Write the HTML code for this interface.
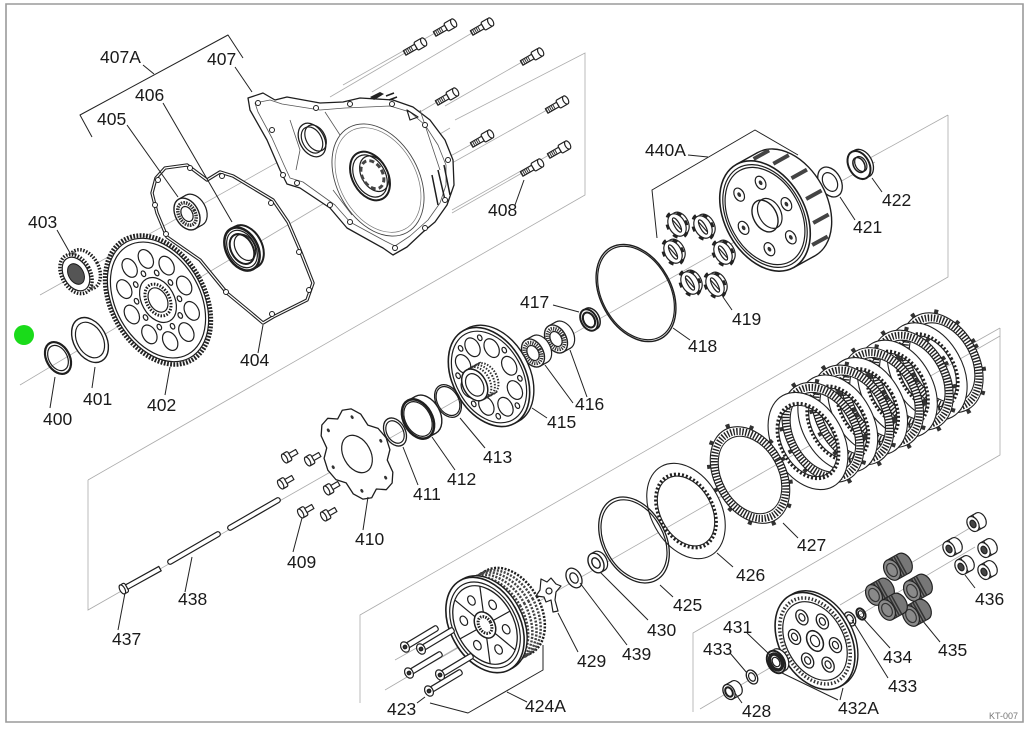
<!DOCTYPE html>
<html><head><meta charset="utf-8">
<style>
html,body{margin:0;padding:0;background:#fff;}
svg{display:block}
svg *{vector-effect:non-scaling-stroke}
text{font-family:"Liberation Sans",Arial,sans-serif;font-size:17.5px;fill:#1a1a1a;stroke:none}
</style></head><body>
<svg width="1030" height="740" viewBox="0 0 1030 740" xmlns="http://www.w3.org/2000/svg">
<defs>
<g id="sp">
 <path fill="#fff" fill-rule="evenodd" stroke="#222" stroke-width="1.1" d="M52 0A52 52 0 1 0-52 0A52 52 0 1 0 52 0ZM38 0A38 38 0 1 0-38 0A38 38 0 1 0 38 0Z"/>
 <circle r="40" fill="none" stroke="#222" stroke-width="3.5" stroke-dasharray="2 2"/>
</g>
<g id="fp">
 <circle r="57" fill="none" stroke="#333" stroke-width="4.5" stroke-dasharray="4 20"/>
 <path fill="#fff" fill-rule="evenodd" stroke="#222" stroke-width="1.1" d="M55 0A55 55 0 1 0-55 0A55 55 0 1 0 55 0ZM44 0A44 44 0 1 0-44 0A44 44 0 1 0 44 0Z"/>
 <circle r="49.5" fill="none" stroke="#222" stroke-width="7" stroke-dasharray="1.4 1.6"/>
</g>
<g id="bolt">
 <rect x="-12" y="-2.6" width="13" height="5.2" fill="#fff" stroke="#222"/>
 <line x1="-12" y1="0" x2="-3" y2="0" stroke="#333" stroke-width="4.5" stroke-dasharray="1 1"/>
 <rect x="1" y="-4.5" width="9" height="9" rx="1.5" fill="#fff" stroke="#222"/>
 <ellipse cx="10" cy="0" rx="2.5" ry="4.5" fill="#fff" stroke="#222"/>
</g>
<g id="scr">
 <rect x="0" y="-2.3" width="9" height="4.6" fill="#fff" stroke="#222"/>
 <rect x="-5" y="-5" width="6" height="10" rx="1.5" fill="#fff" stroke="#222"/>
 <ellipse cx="-5" cy="0" rx="2.3" ry="5" fill="#fff" stroke="#222"/>
</g>
<g id="lb">
 <rect x="0" y="-2.8" width="38" height="5.6" rx="2" fill="#fff" stroke="#222"/>
 <ellipse cx="0" cy="0" rx="4" ry="5.5" fill="#fff" stroke="#222"/>
 <circle r="1.8" fill="#333"/>
</g>
<g id="brg">
 <circle cx="12" r="15" fill="#fff" stroke="#222"/>
 <rect x="0" y="-15" width="12" height="30" fill="#fff" stroke="none"/>
 <path d="M0 -15H12M0 15H12" stroke="#222"/>
 <circle r="15" fill="#fff" stroke="#222" stroke-width="1.4"/>
 <circle r="11" fill="none" stroke="#333" stroke-width="4" stroke-dasharray="1.2 1"/>
 <circle r="8" fill="none" stroke="#222"/>
</g>
<g id="dmp">
 <circle cx="5" r="12" fill="#fff" stroke="#222"/>
 <rect x="0" y="-12" width="5" height="24" fill="#fff" stroke="none"/>
 <circle r="13.5" fill="none" stroke="#222" stroke-width="3" stroke-dasharray="5 7"/>
 <circle r="12" fill="#fff" stroke="#222"/>
 <ellipse rx="4" ry="8" fill="none" stroke="#222"/>
 <path d="M-2 -6L2 6" stroke="#222"/>
</g>
<g id="spr">
 <circle cx="20" r="11" fill="#777" stroke="#222"/>
 <rect x="0" y="-11" width="20" height="22" fill="#777" stroke="none"/>
 <path d="M0 -11H20M0 11H20" stroke="#222"/>
 <path d="M4 -11V11M8 -11V11M12 -11V11M16 -11V11" stroke="#333" stroke-width="1.5"/>
 <circle r="11" fill="#8a8a8a" stroke="#222"/>
 <circle r="7" fill="none" stroke="#333"/>
</g>
<g id="cap">
 <circle cx="12" r="8" fill="#fff" stroke="#222"/>
 <rect x="0" y="-8" width="12" height="16" fill="#fff" stroke="none"/>
 <path d="M0 -8H12M0 8H12M6 -8V8" stroke="#222"/>
 <circle r="8" fill="#fff" stroke="#222"/>
 <circle r="4" fill="#444" stroke="#222"/>
</g>
</defs>

<rect width="1030" height="740" fill="#fff"/>
<rect x="6" y="4" width="1017" height="718" fill="none" stroke="#9a9a9a" stroke-width="1.6"/>

<!-- guide lines -->
<g stroke="#ababab" stroke-width=".8" fill="none">
<path d="M88 480L585 195V53L455 120"/>
<path d="M88 480V610L875 162"/>
<path d="M948 115V277L360 615V703"/>
<path d="M948 115L870 158"/>
<path d="M1000 328V455L693 633V712"/>
<path d="M1000 328L968 346"/>
<path d="M20 385L450 128"/>
<path d="M40 295L330 133"/>
<path d="M430 664L1000 336"/>
<path d="M700 709L975 547"/>
<path d="M840 605L975 525"/>
<path d="M405 53L330 97M435 33L343 85M472 33L372 92M437 102L420 112M472 144L447 158M522 62L445 106M547 110L452 163M549 155L452 210M522 173L452 213"/>
<path d="M385 690L470 640M395 660L470 618"/>
</g>

<g fill="none" stroke="#1e1e1e" stroke-width="1.2" stroke-linejoin="round">

<!-- 408 bolts -->
<use href="#bolt" transform="translate(445 28) rotate(-30)"/>
<use href="#bolt" transform="translate(482 27) rotate(-30)"/>
<use href="#bolt" transform="translate(415 47) rotate(-30)"/>
<use href="#bolt" transform="translate(532 57) rotate(-30)"/>
<use href="#bolt" transform="translate(447 97) rotate(-30)"/>
<use href="#bolt" transform="translate(557 105) rotate(-30)"/>
<use href="#bolt" transform="translate(482 139) rotate(-30)"/>
<use href="#bolt" transform="translate(559 150) rotate(-30)"/>
<use href="#bolt" transform="translate(532 168) rotate(-30)"/>

<!-- 407 housing -->
<path fill="#fff" stroke-width="1.3" d="M248 98L263 93L275 100L287 97L320 103L343 102L360 98L393 100L413 107L430 120L445 140L453 160L454 185L447 205L435 222L423 232L407 247L393 255L383 248L347 228L330 208L300 188L287 184L280 170L267 140L250 110Z"/>
<path stroke="#555" stroke-width=".8" d="M255 103L270 100L282 104L320 110L345 108L390 106L410 112L425 125L438 145L446 165L446 185L440 203L428 220L410 236L395 246L385 241L350 222L335 205L303 182L290 178L284 165L272 138L258 112Z"/>
<path stroke="#555" stroke-width=".8" d="M290 120L300 150L296 170M325 112L340 135M420 110L430 140L440 170M333 190L352 215"/>
<g transform="translate(378 180) rotate(-29) scale(.68 1)"><circle r="60" stroke="#444" stroke-width=".9"/><circle r="56" stroke="#777" stroke-width=".7"/></g>
<g transform="translate(312 140) rotate(-29) scale(.68 1)"><circle r="18" fill="#fff" stroke-width="1.3"/><circle r="14"/><circle cx="6" r="14"/></g>
<g transform="translate(370 176) rotate(-29) scale(.68 1)"><circle r="26" fill="#fff" stroke-width="2"/><circle r="22.5"/><circle cx="7" r="19"/><circle cx="4" r="15" stroke="#444" stroke-width="3" stroke-dasharray="5 3"/></g>
<path stroke-width="1.5" d="M432 175L438 205M438 170L445 200M444 165L450 195"/>
<path fill="#222" stroke="none" d="M370 97L380 92L384 94L374 100Z"/>
<path stroke-width="1.5" d="M386 96l8-3M389 100l8-3"/>
<path d="M407 110L418 117L410 120Z" stroke-width="1.2"/>
<g fill="#fff" stroke-width="1">
<circle cx="258" cy="103" r="2.5"/><circle cx="272" cy="130" r="2.5"/><circle cx="283" cy="175" r="2.5"/><circle cx="297" cy="183" r="2.5"/><circle cx="316" cy="108" r="2.5"/><circle cx="350" cy="104" r="2.5"/><circle cx="392" cy="104" r="2.5"/><circle cx="425" cy="125" r="2.5"/><circle cx="448" cy="160" r="2.5"/><circle cx="445" cy="200" r="2.5"/><circle cx="425" cy="228" r="2.5"/><circle cx="395" cy="248" r="2.5"/><circle cx="350" cy="222" r="2.5"/><circle cx="330" cy="205" r="2.5"/>
</g>

<!-- 404 gasket -->
<path stroke="#222" stroke-width="3.4" d="M152 193L156 178L165 168L187 165L207 180L220 172L233 176L273 200L288 222L300 250L313 283L307 300L273 317L263 323L250 312L227 293L200 260L167 237L157 213Z"/>
<path stroke="#fff" stroke-width="1.2" d="M152 193L156 178L165 168L187 165L207 180L220 172L233 176L273 200L288 222L300 250L313 283L307 300L273 317L263 323L250 312L227 293L200 260L167 237L157 213Z"/>
<g fill="#fff" stroke-width="1">
<circle cx="158" cy="180" r="2.5"/><circle cx="190" cy="168" r="2.5"/><circle cx="222" cy="176" r="2.5"/><circle cx="271" cy="203" r="2.5"/><circle cx="299" cy="252" r="2.5"/><circle cx="309" cy="290" r="2.5"/><circle cx="272" cy="314" r="2.5"/><circle cx="226" cy="292" r="2.5"/><circle cx="166" cy="234" r="2.5"/><circle cx="155" cy="205" r="2.5"/>
</g>

<!-- 406 seal -->
<g transform="translate(242 249) rotate(-29) scale(.68 1)">
<circle cx="7" r="23" fill="#fff" stroke-width="2"/>
<rect x="0" y="-23" width="7" height="46" fill="#fff" stroke="none"/>
<path d="M0 -23H7M0 23H7" stroke-width="2"/>
<circle r="23" fill="#fff" stroke-width="2.5"/>
<circle r="20"/>
<circle r="16" stroke-width="2"/>
<circle cx="5" r="14"/>
</g>

<!-- 405 bearing -->
<g transform="translate(187 214) rotate(-29) scale(.68 1)">
<circle cx="12" r="17" fill="#fff"/>
<rect x="0" y="-17" width="12" height="34" fill="#fff" stroke="none"/>
<path d="M0 -17H12M0 17H12"/>
<circle r="17" fill="#fff" stroke-width="1.4"/>
<circle r="12" stroke-width="3.5" stroke="#333" stroke-dasharray="1.5 1"/>
<circle r="8"/>
</g>

<!-- 403 gear -->
<g transform="translate(76 274) rotate(-29) scale(.68 1)">
<circle cx="14" r="21" fill="#fff" stroke-width="3.5" stroke-dasharray="1.5 1.5"/>
<rect x="0" y="-21" width="14" height="42" fill="#777" stroke="none"/>
<circle r="21" fill="#fff" stroke-width="3.5" stroke-dasharray="1.5 1.5"/>
<circle r="18"/>
<circle r="11" fill="#555" stroke-width="1"/>
</g>

<!-- 402 gear -->
<g transform="translate(158 300) rotate(-29) scale(.68 1)">
<circle r="69" stroke="#222" stroke-width="4.5" stroke-dasharray="1.8 1.4"/>
<circle r="66" fill="#fff"/>
<circle r="62"/>
<g fill="#fff">
<circle cx="44" cy="0" r="10"/><circle cx="35.6" cy="25.9" r="10"/><circle cx="13.6" cy="41.8" r="10"/><circle cx="-13.6" cy="41.8" r="10"/><circle cx="-35.6" cy="25.9" r="10"/><circle cx="-44" cy="0" r="10"/><circle cx="-35.6" cy="-25.9" r="10"/><circle cx="-13.6" cy="-41.8" r="10"/><circle cx="13.6" cy="-41.8" r="10"/><circle cx="35.6" cy="-25.9" r="10"/>
<circle cx="28.5" cy="9.3" r="3"/><circle cx="17.6" cy="24.3" r="3"/><circle cx="0" cy="30" r="3"/><circle cx="-17.6" cy="24.3" r="3"/><circle cx="-28.5" cy="9.3" r="3"/><circle cx="-28.5" cy="-9.3" r="3"/><circle cx="-17.6" cy="-24.3" r="3"/><circle cx="0" cy="-30" r="3"/><circle cx="17.6" cy="-24.3" r="3"/><circle cx="28.5" cy="-9.3" r="3"/>
</g>
<circle r="24"/>
<circle r="17" stroke-width="3" stroke-dasharray="1.5 1.5"/>
<circle r="13"/>
</g>

<!-- 401, 400 -->
<g transform="translate(90 340) rotate(-29) scale(.68 1)"><circle r="24" fill="#fff" stroke-width="1.4"/><circle r="19"/></g>
<g transform="translate(58 358) rotate(-29) scale(.68 1)"><circle r="17" stroke-width="2.2"/><circle r="13.5"/></g>

<!-- 422, 421 -->
<g transform="translate(859 165) rotate(-29) scale(.68 1)"><circle cx="5" r="15" fill="#fff" stroke-width="1.3"/><circle r="15" fill="#fff" stroke-width="2"/><circle r="8" stroke-width="1.5"/><circle cx="3" r="8"/></g>
<g transform="translate(830 182) rotate(-29) scale(.68 1)"><circle r="16" fill="#fff" stroke-width="1.3"/><circle r="10"/></g>

<!-- 440A basket -->
<g transform="translate(765 216) rotate(-29) scale(.68 1)">
<circle cx="36" r="59" fill="#fff" stroke-width="1.4"/>
<rect x="0" y="-59" width="36" height="118" fill="#fff" stroke="none"/>
<path d="M0 -59H36M0 59H36" stroke-width="1.4"/>
<path stroke="#444" stroke-width="4" d="M26 -55.4h26M48 -41.7h26M61 -20.2h26M65 5.1h26M57 29.5h26M40 48.3h26"/>
<circle r="59" fill="#fff" stroke-width="1.6"/>
<circle r="55"/>
<circle r="52"/>
<g fill="#fff" stroke-width="1.2">
<circle cx="36" cy="0" r="7"/><circle cx="18" cy="31.2" r="7"/><circle cx="-18" cy="31.2" r="7"/><circle cx="-36" cy="0" r="7"/><circle cx="-18" cy="-31.2" r="7"/><circle cx="18" cy="-31.2" r="7"/>
</g>
<g fill="#333" stroke="none">
<circle cx="36" cy="0" r="2.5"/><circle cx="18" cy="31.2" r="2.5"/><circle cx="-18" cy="31.2" r="2.5"/><circle cx="-36" cy="0" r="2.5"/><circle cx="-18" cy="-31.2" r="2.5"/><circle cx="18" cy="-31.2" r="2.5"/>
</g>
<circle r="17" stroke-width="1.4"/>
<circle cx="8" r="16"/>
</g>

<!-- 419 dampers -->
<use href="#dmp" transform="translate(703 227) rotate(-29) scale(.68 1)"/>
<use href="#dmp" transform="translate(677 225) rotate(-29) scale(.68 1)"/>
<use href="#dmp" transform="translate(723 253) rotate(-29) scale(.68 1)"/>
<use href="#dmp" transform="translate(673 252) rotate(-29) scale(.68 1)"/>
<use href="#dmp" transform="translate(715 285) rotate(-29) scale(.68 1)"/>
<use href="#dmp" transform="translate(690 283) rotate(-29) scale(.68 1)"/>

<!-- 418 o-ring -->
<g transform="translate(636 293) rotate(-29) scale(.68 1)"><circle r="52" stroke-width="1.4"/><circle r="50"/></g>

<!-- 417 -->
<g transform="translate(589 320) rotate(-29) scale(.68 1)"><circle cx="4" r="11.5" fill="#fff" stroke-width="1.5"/><circle r="11.5" fill="#fff" stroke-width="2"/><circle r="8" stroke-width="2"/></g>

<!-- 416 bearings -->
<use href="#brg" transform="translate(556 339) rotate(-29) scale(.68 1)"/>
<use href="#brg" transform="translate(533 353) rotate(-29) scale(.68 1)"/>

<!-- 415 hub -->
<g transform="translate(489 377) rotate(-29) scale(.68 1)">
<circle cx="7" r="53" fill="#fff" stroke-width="1.4"/>
<rect x="0" y="-53" width="7" height="106" fill="#fff" stroke="none"/>
<path d="M0 -53H7M0 53H7"/>
<circle r="53" fill="#fff" stroke-width="1.6"/>
<circle r="49"/>
<g fill="#fff">
<circle cx="34" cy="0" r="10"/><circle cx="24" cy="24" r="10"/><circle cx="0" cy="34" r="10"/><circle cx="-24" cy="24" r="10"/><circle cx="-34" cy="0" r="10"/><circle cx="-24" cy="-24" r="10"/><circle cx="0" cy="-34" r="10"/><circle cx="24" cy="-24" r="10"/>
<circle cx="38.8" cy="16.1" r="3"/><circle cx="16.1" cy="38.8" r="3"/><circle cx="-16.1" cy="38.8" r="3"/><circle cx="-38.8" cy="16.1" r="3"/><circle cx="-38.8" cy="-16.1" r="3"/><circle cx="-16.1" cy="-38.8" r="3"/><circle cx="16.1" cy="-38.8" r="3"/><circle cx="38.8" cy="-16.1" r="3"/>
</g>
<rect x="-24" y="-17" width="24" height="34" fill="#fff" stroke="none"/>
<path d="M-24 -17H0M-24 17H0"/>
<circle cx="-6" r="17" stroke="#333" stroke-width="2" stroke-dasharray="1.5 1.5"/>
<circle cx="-12" r="17" stroke="#333" stroke-width="2" stroke-dasharray="1.5 1.5"/>
<circle cx="-18" r="17" stroke="#333" stroke-width="2" stroke-dasharray="1.5 1.5"/>
<circle cx="-24" r="17" fill="#fff" stroke-width="1.5"/>
<circle cx="-24" r="12"/>
</g>

<!-- 413, 412, 411 -->
<g transform="translate(448 401) rotate(-29) scale(.68 1)"><circle r="17.5" stroke-width="1.3"/><circle r="15.5"/></g>
<g transform="translate(418 419) rotate(-29) scale(.68 1)">
<circle cx="13" r="21" fill="#fff" stroke-width="1.4"/>
<rect x="0" y="-21" width="13" height="42" fill="#fff" stroke="none"/>
<path d="M0 -21H13M0 21H13" stroke-width="1.4"/>
<circle r="21" fill="#fff" stroke-width="2.5"/>
<circle r="18.5"/>
</g>
<g transform="translate(395 432) rotate(-29) scale(.68 1)"><circle r="15" stroke-width="1.3"/><circle r="12"/></g>

<!-- 410 plate -->
<g transform="translate(357 454) rotate(-29) scale(.68 1)">
<path fill="#fff" stroke-width="1.3" d="M49 0L45.4 12.2L34.6 20L33.2 33.2L24.5 42.4L12.2 45.4L0 40L-12.2 45.4L-24.5 42.4L-33.2 33.2L-34.6 20L-45.4 12.2L-49 0L-45.4 -12.2L-34.6 -20L-33.2 -33.2L-24.5 -42.4L-12.2 -45.4L0 -40L12.2 -45.4L24.5 -42.4L33.2 -33.2L34.6 -20L45.4 -12.2Z"/>
<circle r="20" stroke-width="1.2"/>
<g fill="#333" stroke="none"><circle cx="40" cy="0" r="2"/><circle cx="20" cy="34.6" r="2"/><circle cx="-20" cy="34.6" r="2"/><circle cx="-40" cy="0" r="2"/><circle cx="-20" cy="-34.6" r="2"/><circle cx="20" cy="-34.6" r="2"/></g>
</g>

<!-- 409 screws -->
<use href="#scr" transform="translate(289 456) rotate(-30)"/>
<use href="#scr" transform="translate(312 459) rotate(-30)"/>
<use href="#scr" transform="translate(285 482) rotate(-30)"/>
<use href="#scr" transform="translate(331 488) rotate(-30)"/>
<use href="#scr" transform="translate(305 511) rotate(-30)"/>
<use href="#scr" transform="translate(328 514) rotate(-30)"/>

<!-- 437 / 438 -->
<g transform="translate(125 588) rotate(-29)"><rect x="0" y="-2.5" width="40" height="5" fill="#fff"/><rect x="-3" y="-5" width="5" height="10" rx="2" fill="#fff"/><ellipse cx="-3" cy="0" rx="2.5" ry="5" fill="#fff"/></g>
<g transform="translate(168 563) rotate(-30)"><rect x="0" y="-2.5" width="60" height="5" rx="2.5" fill="#fff"/></g>
<g transform="translate(228 529) rotate(-30)"><rect x="0" y="-2.5" width="60" height="5" rx="2.5" fill="#fff"/></g>

<!-- clutch pack -->
<use href="#fp" transform="translate(942.1 362.7) rotate(-29) scale(.66 .97)"/>
<use href="#sp" transform="translate(927.2 371.4) rotate(-29) scale(.68 1)"/>
<use href="#fp" transform="translate(912.3 380.1) rotate(-29) scale(.66 .97)"/>
<use href="#sp" transform="translate(897.4 388.8) rotate(-29) scale(.68 1)"/>
<use href="#fp" transform="translate(882.5 397.5) rotate(-29) scale(.66 .97)"/>
<use href="#sp" transform="translate(867.6 406.2) rotate(-29) scale(.68 1)"/>
<use href="#fp" transform="translate(852.7 414.9) rotate(-29) scale(.66 .97)"/>
<use href="#sp" transform="translate(837.8 423.6) rotate(-29) scale(.68 1)"/>
<use href="#fp" transform="translate(822.9 432.3) rotate(-29) scale(.66 .97)"/>
<use href="#sp" transform="translate(808 441) rotate(-29) scale(.68 1)"/>
<use href="#fp" transform="translate(750 475) rotate(-29) scale(.64 .94)"/>
<use href="#sp" transform="translate(686 511) rotate(-29) scale(.67 .98)"/>
<g transform="translate(634 540) rotate(-29) scale(.68 1)"><circle r="46" stroke-width="1.3"/><circle r="43"/></g>

<!-- 430, 439, 429 -->
<g transform="translate(596 563) rotate(-29) scale(.68 1)"><circle cx="6" r="10.5" fill="#fff"/><rect x="0" y="-10.5" width="6" height="21" fill="#fff" stroke="none"/><path d="M0 -10.5H6M0 10.5H6"/><circle r="10.5" fill="#fff" stroke-width="1.4"/><circle r="5.5" stroke-width="1.4"/></g>
<g transform="translate(574 578) rotate(-29) scale(.68 1)"><circle r="10.5" fill="#fff" stroke-width="1.3"/><circle r="5.5"/></g>
<path fill="#fff" stroke-width="1.2" d="M541 579L547 582L551 578L556 584L561 586L556 592L555 600L558 611L553 612L551 600L546 602L544 597L536 596L540 590Z"/>
<circle cx="549" cy="591" r="3"/>

<!-- 424A hub -->
<g transform="translate(485 625) rotate(-29) scale(.68 1)">
<circle cx="40" r="47" fill="#fff" stroke-width="2.5" stroke-dasharray="2 1.5"/>
<rect x="6" y="-47" width="34" height="94" fill="#fff" stroke="none"/>
<path d="M6 -47H40M6 47H40"/>
<circle cx="33" r="47" stroke="#444" stroke-width="2.5" stroke-dasharray="2 1.5"/>
<circle cx="26" r="47" stroke="#444" stroke-width="2.5" stroke-dasharray="2 1.5"/>
<circle cx="19" r="47" stroke="#444" stroke-width="2.5" stroke-dasharray="2 1.5"/>
<circle cx="12" r="47" stroke="#444" stroke-width="2.5" stroke-dasharray="2 1.5"/>
<circle cx="5" r="51" fill="#fff" stroke-width="1.4"/>
<circle r="51" fill="#fff" stroke-width="1.6"/>
<circle r="46"/>
<circle r="42" stroke-width="1.3"/>
<path d="M14 0H42M7 12.1L21 36.4M-7 12.1L-21 36.4M-14 0H-42M-7 -12.1L-21 -36.4M7 -12.1L21 -36.4"/>
<g fill="#fff"><circle cx="24.2" cy="14" r="5"/><circle cx="0" cy="28" r="5"/><circle cx="-24.2" cy="14" r="5"/><circle cx="-24.2" cy="-14" r="5"/><circle cx="0" cy="-28" r="5"/><circle cx="24.2" cy="-14" r="5"/></g>
<circle r="14" fill="#fff" stroke-width="1.5"/>
<circle r="9" stroke-width="3" stroke-dasharray="1.5 1.2"/>
</g>

<!-- 423 bolts -->
<use href="#lb" transform="translate(421 649) rotate(-31)"/>
<use href="#lb" transform="translate(405 647) rotate(-31)"/>
<use href="#lb" transform="translate(440 675) rotate(-31)"/>
<use href="#lb" transform="translate(409 673) rotate(-31)"/>
<use href="#lb" transform="translate(429 691) rotate(-31)"/>

<!-- 436 caps -->
<use href="#cap" transform="translate(973 524) rotate(-29) scale(.68 1)"/>
<use href="#cap" transform="translate(984 550) rotate(-29) scale(.68 1)"/>
<use href="#cap" transform="translate(949 549) rotate(-29) scale(.68 1)"/>
<use href="#cap" transform="translate(984 572) rotate(-29) scale(.68 1)"/>
<use href="#cap" transform="translate(961 567) rotate(-29) scale(.68 1)"/>

<!-- 435 springs -->
<use href="#spr" transform="translate(892 570) rotate(-29) scale(.68 1)"/>
<use href="#spr" transform="translate(912 591) rotate(-29) scale(.68 1)"/>
<use href="#spr" transform="translate(874 595) rotate(-29) scale(.68 1)"/>
<use href="#spr" transform="translate(911 616) rotate(-29) scale(.68 1)"/>
<use href="#spr" transform="translate(887 610) rotate(-29) scale(.68 1)"/>

<!-- 434, 433 right -->
<g transform="translate(861 614) rotate(-29) scale(.68 1)"><circle r="6" stroke-width="2"/><circle r="3.5"/></g>
<g transform="translate(850 619) rotate(-29) scale(.68 1)"><circle r="7.5" fill="#fff" stroke-width="1.3"/><circle r="4.5"/></g>

<!-- 432A pressure plate -->
<g transform="translate(815 641) rotate(-29) scale(.68 1)">
<circle cx="5" r="52" fill="#fff" stroke-width="1.4"/>
<rect x="0" y="-52" width="5" height="104" fill="#fff" stroke="none"/>
<circle r="52" fill="#fff" stroke-width="1.6"/>
<circle r="46" stroke="#333" stroke-width="3.5" stroke-dasharray="1.5 2"/>
<circle r="42"/>
<g fill="#fff" stroke-width="1.3">
<circle cx="23.4" cy="13.5" r="8"/><circle cx="0" cy="27" r="8"/><circle cx="-23.4" cy="13.5" r="8"/><circle cx="-23.4" cy="-13.5" r="8"/><circle cx="0" cy="-27" r="8"/><circle cx="23.4" cy="-13.5" r="8"/>
</g>
<circle cx="23.4" cy="13.5" r="4"/><circle cx="0" cy="27" r="4"/><circle cx="-23.4" cy="13.5" r="4"/><circle cx="-23.4" cy="-13.5" r="4"/><circle cx="0" cy="-27" r="4"/><circle cx="23.4" cy="-13.5" r="4"/>
<circle r="11" fill="#fff" stroke-width="1.5"/><circle r="6"/>
</g>

<!-- 431, 433, 428 -->
<g transform="translate(776 662) rotate(-29) scale(.68 1)"><circle cx="6" r="12" fill="#fff"/><rect x="0" y="-12" width="6" height="24" fill="#fff" stroke="none"/><circle r="12" fill="#fff" stroke-width="2"/><circle r="8.5" stroke="#222" stroke-width="3.5"/><circle r="5"/></g>
<g transform="translate(752 677) rotate(-29) scale(.68 1)"><circle r="7.5" fill="#fff" stroke-width="1.3"/><circle r="4.5"/></g>
<g transform="translate(729 692) rotate(-29) scale(.68 1)"><circle cx="12" r="8" fill="#fff"/><rect x="0" y="-8" width="12" height="16" fill="#fff" stroke="none"/><path d="M0 -8H12M0 8H12"/><circle r="8" fill="#fff" stroke-width="1.3"/><circle r="5" stroke-width="2"/></g>

<!-- leader lines -->
<g stroke="#222" stroke-width="1">
<path d="M92 137L80 115L228 35L243 58"/>
<path d="M143 65L154 74"/>
<path d="M235 67L252 92"/>
<path d="M163 103L232 222"/>
<path d="M127 125L178 197"/>
<path d="M57 230L70 253"/>
<path d="M263 325L258 353"/>
<path d="M524 180L515 205"/>
<path d="M55 377L50 408"/>
<path d="M95 367L92 388"/>
<path d="M170 367L165 395"/>
<path d="M302 518L293 552"/>
<path d="M368 497L363 530"/>
<path d="M403 447L418 485"/>
<path d="M432 437L455 470"/>
<path d="M460 418L485 448"/>
<path d="M125 593L118 630"/>
<path d="M192 557L185 592"/>
<path d="M417 703L425 697"/>
<path d="M430 703L468 713L543 670L543 645"/>
<path d="M507 692L527 702"/>
<path d="M532 408L547 418"/>
<path d="M545 365L573 403M570 350L587 397"/>
<path d="M553 305L579 312"/>
<path d="M673 328L690 340"/>
<path d="M723 297L732 310"/>
<path d="M688 155L708 157"/>
<path d="M657 238L652 190L755 130L798 155"/>
<path d="M840 197L855 220"/>
<path d="M872 178L882 192"/>
<path d="M783 523L798 538"/>
<path d="M717 553L733 567"/>
<path d="M660 585L673 597"/>
<path d="M600 572L648 620"/>
<path d="M580 583L627 645"/>
<path d="M558 613L578 652"/>
<path d="M747 633L770 655"/>
<path d="M730 653L747 673"/>
<path d="M735 693L742 703"/>
<path d="M782 673L838 700M843 688L840 700"/>
<path d="M852 620L888 678"/>
<path d="M862 617L890 648"/>
<path d="M922 620L940 642"/>
<path d="M965 575L975 588"/>
</g>
</g>

<circle cx="24" cy="335" r="10" fill="#1adb1a"/>

<!-- labels -->
<text x="100" y="63">407A</text>
<text x="207" y="65">407</text>
<text x="135" y="101">406</text>
<text x="97" y="125">405</text>
<text x="28" y="228">403</text>
<text x="240" y="366">404</text>
<text x="488" y="216">408</text>
<text x="43" y="425">400</text>
<text x="83" y="405">401</text>
<text x="147" y="411">402</text>
<text x="287" y="568">409</text>
<text x="355" y="545">410</text>
<text x="413" y="500">411</text>
<text x="447" y="485">412</text>
<text x="483" y="463">413</text>
<text x="112" y="645">437</text>
<text x="178" y="605">438</text>
<text x="387" y="715">423</text>
<text x="645" y="156">440A</text>
<text x="882" y="206">422</text>
<text x="853" y="233">421</text>
<text x="732" y="325">419</text>
<text x="520" y="308">417</text>
<text x="688" y="352">418</text>
<text x="575" y="410">416</text>
<text x="547" y="428">415</text>
<text x="797" y="551">427</text>
<text x="736" y="581">426</text>
<text x="673" y="611">425</text>
<text x="647" y="636">430</text>
<text x="622" y="660">439</text>
<text x="577" y="667">429</text>
<text x="525" y="712">424A</text>
<text x="723" y="633">431</text>
<text x="703" y="655">433</text>
<text x="742" y="717">428</text>
<text x="838" y="714">432A</text>
<text x="888" y="692">433</text>
<text x="883" y="663">434</text>
<text x="938" y="656">435</text>
<text x="975" y="605">436</text>
<text x="989" y="719" style="font-size:9px;fill:#777">KT-007</text>
</svg>
</body></html>
